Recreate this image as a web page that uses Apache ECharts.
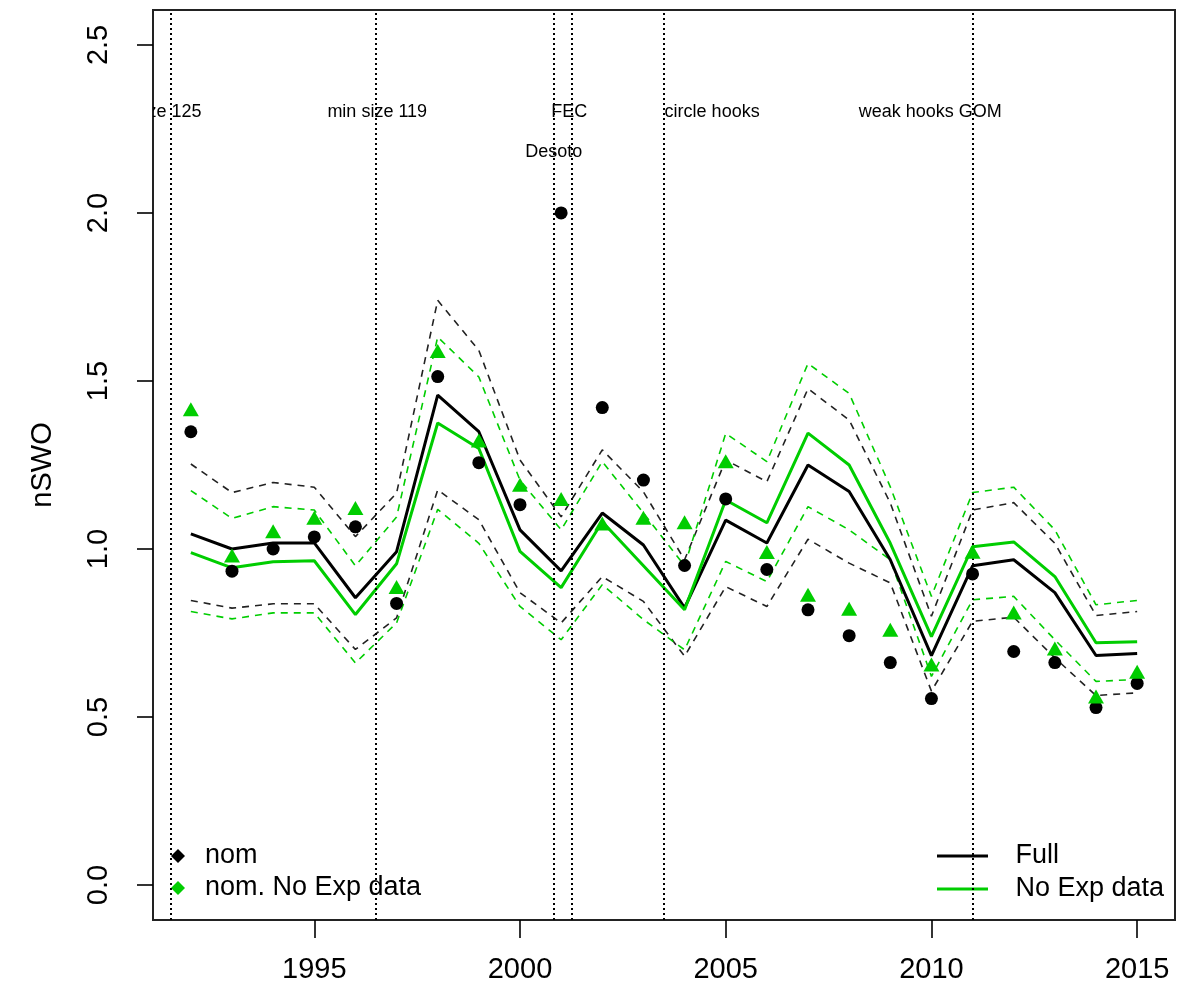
<!DOCTYPE html>
<html>
<head>
<meta charset="utf-8">
<script src="https://cdn.jsdelivr.net/npm/echarts@6/dist/echarts.min.js"></script>
<style>html,body{margin:0;padding:0;background:#fff}#c{width:1178px;height:996px}</style>
</head>
<body>
<div id="c"></div>
<script>
const years = [1992,1993,1994,1995,1996,1997,1998,1999,2000,2001,2002,2003,2004,2005,2006,2007,2008,2009,2010,2011,2012,2013,2014,2015];
const full    = [1.045,1.000,1.018,1.018,0.855,0.992,1.458,1.349,1.057,0.935,1.107,1.012,0.825,1.086,1.018,1.250,1.171,0.968,0.683,0.950,0.968,0.870,0.683,0.689];
const fullUp  = [1.253,1.168,1.198,1.184,1.037,1.166,1.740,1.591,1.265,1.096,1.295,1.170,0.968,1.265,1.200,1.477,1.384,1.137,0.800,1.116,1.138,1.017,0.802,0.814];
const fullLo  = [0.847,0.824,0.837,0.837,0.701,0.795,1.176,1.087,0.870,0.780,0.918,0.844,0.681,0.888,0.829,1.029,0.958,0.899,0.577,0.785,0.797,0.676,0.564,0.572];
const noexp   = [0.989,0.944,0.962,0.965,0.805,0.956,1.375,1.299,0.993,0.885,1.081,0.950,0.819,1.146,1.078,1.345,1.250,1.017,0.739,1.007,1.021,0.918,0.721,0.724];
const noexpUp = [1.174,1.091,1.126,1.116,0.950,1.095,1.631,1.512,1.205,1.057,1.260,1.107,0.950,1.344,1.260,1.552,1.463,1.185,0.859,1.168,1.184,1.057,0.834,0.847];
const noexpLo = [0.814,0.792,0.810,0.810,0.661,0.780,1.118,1.017,0.829,0.730,0.894,0.790,0.700,0.963,0.903,1.126,1.057,0.968,0.621,0.849,0.859,0.730,0.606,0.612];
const nom     = [1.349,0.934,1.000,1.036,1.066,0.838,1.513,1.257,1.132,2.000,1.421,1.205,0.951,1.149,0.939,0.819,0.742,0.662,0.555,0.926,0.695,0.662,0.528,0.600];
const nomNoExp= [1.416,0.981,1.053,1.093,1.122,0.887,1.589,1.323,1.191,1.149,1.076,1.093,1.080,1.261,0.991,0.864,0.822,0.760,0.656,0.992,0.811,0.704,0.561,0.635];
const eventYears = [1991.5,1996.5,2000.83,2001.25,2003.5,2011];
const noteText = ['min size 125','min size 119','Desoto','FEC','circle hooks','weak hooks GOM'];
const noteX    = [1991.03,1996.53,2000.82,2001.2,2004.67,2009.97];
const noteY    = [2.3,2.3,2.18,2.3,2.3,2.3];
const xTicks = [1995,2000,2005,2010,2015];
const yTicks = [0,0.5,1,1.5,2,2.5];

const FONT = "'Liberation Sans', Arial, sans-serif";
const GREEN = '#00CD00';
const pairs = arr => years.map((y,i)=>[y,arr[i]]);

const chart = echarts.init(document.getElementById('c'), null, {renderer:'canvas'});
const dashed = (name, arr, color) => ({
  name, type:'line', data:pairs(arr), showSymbol:false, symbol:'none', silent:true,
  lineStyle:{color, width:1.6, type:[7,6]}, z:2
});
chart.setOption({
  animation:false,
  backgroundColor:'#fff',
  grid:{left:153, right:3, top:10, bottom:76, show:true, borderColor:'#222', borderWidth:2, backgroundColor:'transparent'},
  xAxis:{type:'value', min:1991.08, max:2015.92,
    axisLine:{show:false, onZero:false}, splitLine:{show:false},
    axisTick:{show:true, length:18, customValues:xTicks, lineStyle:{color:'#000', width:1.6}},
    axisLabel:{customValues:xTicks, margin:35, color:'#000', fontSize:29, fontFamily:FONT, formatter:v=>String(v)}
  },
  yAxis:{type:'value', min:-0.104, max:2.604,
    name:'nSWO', nameLocation:'middle', nameGap:96, nameRotate:90,
    nameTextStyle:{color:'#000', fontSize:29, fontFamily:FONT},
    axisLine:{show:false, onZero:false}, splitLine:{show:false},
    axisTick:{show:true, length:16, customValues:yTicks, lineStyle:{color:'#000', width:1.6}},
    axisLabel:{customValues:yTicks, rotate:90, margin:40, color:'#000', fontSize:29, fontFamily:FONT, formatter:v=>v.toFixed(1)}
  },
  legend:[
    {orient:'vertical', left:171, top:841, padding:0, itemWidth:14, itemHeight:14, itemGap:2,
     selectedMode:false, formatter:n=>'  '+n,
     textStyle:{color:'#000', fontSize:27, fontFamily:FONT, lineHeight:30},
     data:[{name:'nom', icon:'diamond'},{name:'nom. No Exp data', icon:'diamond'}]},
    {orient:'vertical', left:937, top:841, padding:0, itemWidth:51, itemHeight:3, itemGap:3,
     selectedMode:false, formatter:n=>'   '+n,
     textStyle:{color:'#000', fontSize:27, fontFamily:FONT, lineHeight:30},
     data:[{name:'Full', icon:'rect'},{name:'No Exp data', icon:'rect'}]}
  ],
  series:[
    dashed('fullUp', fullUp, '#222'),
    dashed('fullLo', fullLo, '#222'),
    dashed('noexpUp', noexpUp, GREEN),
    dashed('noexpLo', noexpLo, GREEN),
    {name:'Full', type:'line', data:pairs(full), showSymbol:false, symbol:'none', color:'#000',
     lineStyle:{color:'#000', width:3}, z:3,
     markLine:{silent:true, symbol:['none','none'], label:{show:false},
       lineStyle:{color:'#000', width:2, type:[2,3]},
       data:eventYears.map(v=>({xAxis:v}))}},
    {name:'No Exp data', type:'line', data:pairs(noexp), showSymbol:false, symbol:'none', color:GREEN,
     lineStyle:{color:GREEN, width:3}, z:3},
    {name:'nom', type:'scatter', data:pairs(nom), symbol:'circle', symbolSize:13, color:'#000',
     itemStyle:{color:'#000', opacity:1}, z:4},
    {name:'nom. No Exp data', type:'scatter', data:pairs(nomNoExp), symbol:'triangle', symbolSize:[16,14], color:GREEN,
     itemStyle:{color:GREEN, opacity:1}, z:5},
    {name:'notes', type:'custom', clip:true, silent:true, z:1,
     data:noteX.map((x,i)=>[x,noteY[i]]),
     renderItem:(params, api)=>{
       const p = api.coord([api.value(0), api.value(1)]);
       return {type:'text', x:p[0], y:p[1],
         style:{text:noteText[params.dataIndex], fill:'#000', font:"18px 'Liberation Sans', Arial, sans-serif", align:'center', verticalAlign:'middle'}};
     }}
  ]
});
</script>
</body>
</html>
